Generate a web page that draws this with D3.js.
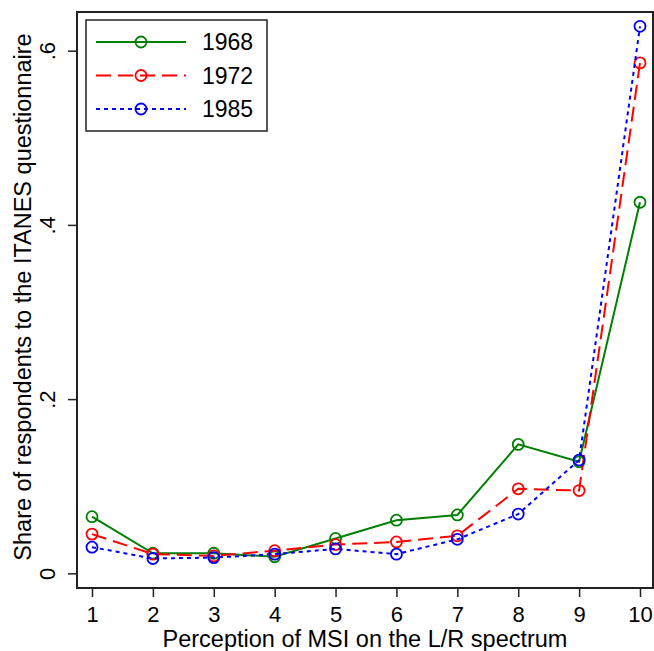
<!DOCTYPE html>
<html>
<head>
<meta charset="utf-8">
<script src="https://cdn.jsdelivr.net/npm/d3@7"></script>
<style>
    body { margin: 0; background: #fff; }
    svg text { font-family: "Liberation Sans", Arial, sans-serif; fill: #000; }
</style>
</head>
<body>
<div id="chart"></div>
<script>
const categories = [1, 2, 3, 4, 5, 6, 7, 8, 9, 10];
const share1968 = [0.065, 0.023, 0.023, 0.019, 0.04, 0.061, 0.067, 0.148, 0.128, 0.426];
const share1972 = [0.045, 0.022, 0.020, 0.026, 0.033, 0.036, 0.043, 0.097, 0.095, 0.586];
const share1985 = [0.030, 0.017, 0.018, 0.022, 0.028, 0.022, 0.039, 0.068, 0.130, 0.628];
const yTicks = [0, 0.2, 0.4, 0.6];
const yTickLabels = ["0", ".2", ".4", ".6"];

const series = [
    { name: "1968", values: share1968, color: "#008000", dash: null },
    { name: "1972", values: share1972, color: "#ff0000", dash: "15,7" },
    { name: "1985", values: share1985, color: "#0000ff", dash: "4,4" }
];

const width = 654, height = 651;
const frame = { left: 77, right: 653, top: 12, bottom: 588 };

const svg = d3.select('#chart')
    .append('svg')
    .attr('width', width)
    .attr('height', height);

const x = d3.scaleLinear().domain([1, 10]).range([92, 640]);
const y = d3.scaleLinear().domain([0, 0.6]).range([573.3, 50.7]);

// frame
svg.append('rect')
    .attr('x', frame.left)
    .attr('y', frame.top)
    .attr('width', frame.right - frame.left)
    .attr('height', frame.bottom - frame.top)
    .attr('fill', 'none')
    .attr('stroke', '#222')
    .attr('stroke-width', 2);

// x axis
const xAxis = svg.append('g')
    .attr('transform', `translate(0,${frame.bottom})`)
    .call(d3.axisBottom(x).tickValues(categories).tickSize(9).tickFormat(d3.format('d')));
xAxis.select('.domain').remove();
xAxis.selectAll('line').attr('stroke', '#222').attr('stroke-width', 1.5);
xAxis.selectAll('text')
    .attr('font-size', '22px')
    .attr('y', 34)
    .attr('dy', 0);

// y axis
const yAxis = svg.append('g')
    .attr('transform', `translate(${frame.left},0)`)
    .call(d3.axisLeft(y).tickValues(yTicks).tickSize(9).tickFormat((d, i) => yTickLabels[i]));
yAxis.select('.domain').remove();
yAxis.selectAll('line').attr('stroke', '#222').attr('stroke-width', 1.5);
yAxis.selectAll('text')
    .attr('font-size', '22px')
    .attr('text-anchor', 'middle')
    .attr('x', 0)
    .attr('dy', 0)
    .attr('transform', 'translate(-22,0) rotate(-90)');

// axis titles
svg.append('text')
    .attr('x', (frame.left + frame.right) / 2)
    .attr('y', 647)
    .attr('text-anchor', 'middle')
    .attr('font-size', '23.5px')
    .text('Perception of MSI on the L/R spectrum');

svg.append('text')
    .attr('transform', `translate(31,297) rotate(-90)`)
    .attr('text-anchor', 'middle')
    .attr('font-size', '23.5px')
    .text('Share of respondents to the ITANES questionnaire');

// lines + markers
const line = d3.line()
    .x((d, i) => x(categories[i]))
    .y(d => y(d));

series.forEach(s => {
    const g = svg.append('g');
    g.append('path')
        .datum(s.values)
        .attr('d', line)
        .attr('fill', 'none')
        .attr('stroke', s.color)
        .attr('stroke-width', 2)
        .attr('stroke-dasharray', s.dash);
    g.selectAll('circle')
        .data(s.values)
        .enter().append('circle')
        .attr('cx', (d, i) => x(categories[i]))
        .attr('cy', d => y(d))
        .attr('r', 5.5)
        .attr('fill', 'none')
        .attr('stroke', s.color)
        .attr('stroke-width', 1.8);
});

// legend
const legend = svg.append('g');
legend.append('rect')
    .attr('x', 86)
    .attr('y', 20)
    .attr('width', 181)
    .attr('height', 111)
    .attr('fill', '#fff')
    .attr('stroke', '#222')
    .attr('stroke-width', 1.5);

series.forEach((s, i) => {
    const ly = 42 + i * 33.5;
    legend.append('line')
        .attr('x1', 96).attr('x2', 186)
        .attr('y1', ly).attr('y2', ly)
        .attr('stroke', s.color)
        .attr('stroke-width', 2)
        .attr('stroke-dasharray', s.dash);
    legend.append('circle')
        .attr('cx', 141).attr('cy', ly)
        .attr('r', 5.5)
        .attr('fill', 'none')
        .attr('stroke', s.color)
        .attr('stroke-width', 1.8);
    legend.append('text')
        .attr('x', 202)
        .attr('y', ly)
        .attr('dy', '0.36em')
        .attr('font-size', '23px')
        .text(s.name);
});
</script>
</body>
</html>
